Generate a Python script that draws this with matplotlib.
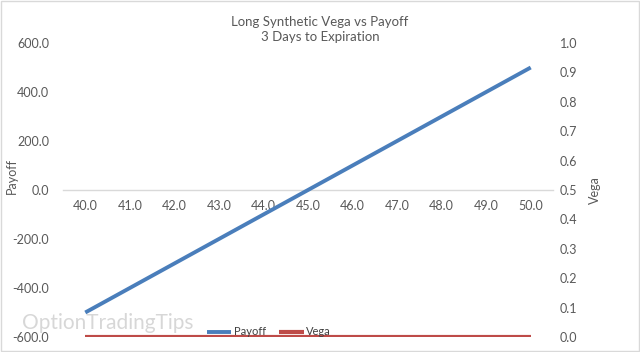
import matplotlib.pyplot as plt

# Data
strikes = [40.0, 41.0, 42.0, 43.0, 44.0, 45.0, 46.0, 47.0, 48.0, 49.0, 50.0]
payoff = [-500, -400, -300, -200, -100, 0, 100, 200, 300, 400, 500]
vega = [0, 0, 0, 0, 0, 0, 0, 0, 0, 0, 0]
payoff_ticks = [-600, -400, -200, 0, 200, 400, 600]
vega_ticks = [0.0, 0.1, 0.2, 0.3, 0.4, 0.5, 0.6, 0.7, 0.8, 0.9, 1.0]

plt.rcParams['font.family'] = ['Lato', 'DejaVu Sans']
grey = '#595959'

fig = plt.figure(figsize=(6.4, 3.52), dpi=100)
ax = fig.add_axes([63 / 640, 1 - 337 / 352, 490 / 640, 294 / 352])
ax2 = ax.twinx()

xpos = list(range(len(strikes)))
l1, = ax.plot(xpos, payoff, color='#4a7ebb', lw=2.8, solid_capstyle='butt', zorder=3, label='Payoff')
l2, = ax2.plot(xpos, vega, color='#be4b48', lw=3, solid_capstyle='butt', zorder=3, label='Vega')

ax.set_xlim(-0.5, len(strikes) - 0.5)
ax.set_ylim(-600, 600)
ax2.set_ylim(0, 1.0)
ax.set_yticks(payoff_ticks)
ax.set_yticklabels([f'{v:.1f}' for v in payoff_ticks])
ax2.set_yticks(vega_ticks)
ax2.set_yticklabels([f'{v:.1f}' for v in vega_ticks])
ax.set_xticks(xpos)
ax.set_xticklabels([f'{v:.1f}' for v in strikes])

for a in (ax, ax2):
    for s in a.spines.values():
        s.set_visible(False)
    a.tick_params(length=0, labelsize=9, colors=grey)
ax.tick_params(axis='y', pad=10)
ax2.tick_params(axis='y', pad=5)
ax.tick_params(axis='x', pad=7)

ax.spines['bottom'].set_visible(True)
ax.spines['bottom'].set_position(('data', 0))
ax.spines['bottom'].set_color('#d9d9d9')
ax.spines['bottom'].set_linewidth(1)

fig.text(12 / 640, 0.5, 'Payoff', rotation=90, fontsize=9, color=grey, ha='center', va='center')
ax2.set_ylabel('Vega', fontsize=9, color=grey, labelpad=8)

fig.text(0.5, 0.955, 'Long Synthetic Vega vs Payoff\n3 Days to Expiration',
         ha='center', va='top', fontsize=9.5, color=grey, linespacing=1.3)

# Watermark
fig.text(0.035, 0.055, 'OptionTradingTips', fontsize=15, color='#d3d3d3', alpha=0.9,
         ha='left', va='bottom', zorder=0)

# Legend
leg = fig.legend(handles=[l1, l2], loc='center', bbox_to_anchor=(0.42, 0.057), ncol=2,
                 frameon=False, fontsize=8, handlelength=2.2, handletextpad=0.2, columnspacing=1.2)
for t in leg.get_texts():
    t.set_color('#404040')

# Outer border
fig.patches.append(plt.Rectangle((0.002, 0.003), 0.996, 0.994, transform=fig.transFigure,
                                 fill=False, edgecolor='#d9d9d9', lw=1))

fig.savefig('out.png', dpi=100)
